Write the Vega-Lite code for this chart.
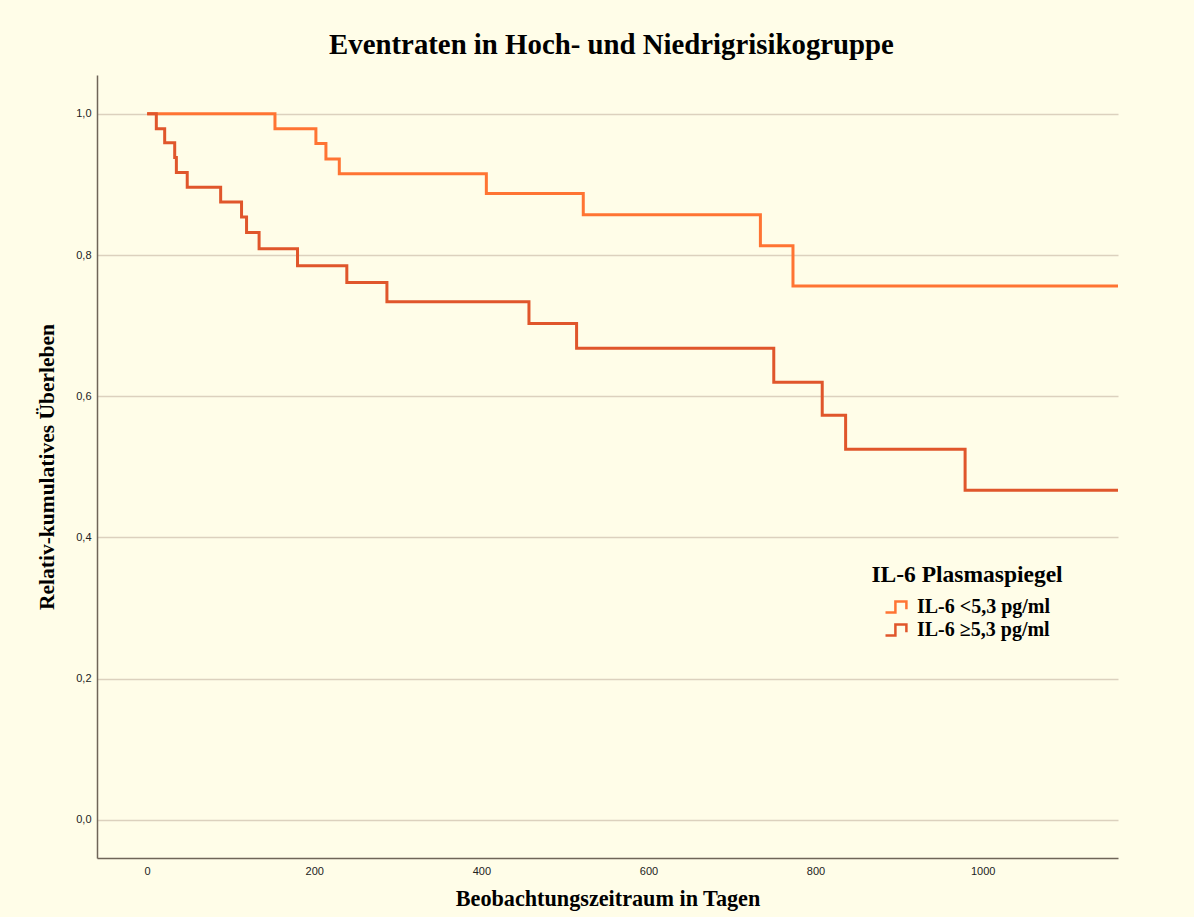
{
  "$schema": "https://vega.github.io/schema/vega-lite/v6.json",
  "width": 1021,
  "height": 783,
  "autosize": {"type": "none"},
  "padding": {"left": 97, "top": 75, "right": 76, "bottom": 59},
  "background": "#FFFDE8",
  "config": {"view": {"stroke": null}},
  "title": {
    "text": "Eventraten in Hoch- und Niedrigrisikogruppe",
    "font": "Liberation Serif",
    "fontSize": 28.8,
    "fontWeight": "bold",
    "color": "#000000",
    "anchor": "middle",
    "offset": 15,
    "dx": 4
  },
  "data": {
    "values": [
      {"gruppe": "IL-6 <5,3 pg/ml", "t": 0, "s": 1.0},
      {"gruppe": "IL-6 <5,3 pg/ml", "t": 153, "s": 0.979},
      {"gruppe": "IL-6 <5,3 pg/ml", "t": 202, "s": 0.958},
      {"gruppe": "IL-6 <5,3 pg/ml", "t": 214, "s": 0.936},
      {"gruppe": "IL-6 <5,3 pg/ml", "t": 230, "s": 0.915},
      {"gruppe": "IL-6 <5,3 pg/ml", "t": 406, "s": 0.887},
      {"gruppe": "IL-6 <5,3 pg/ml", "t": 522, "s": 0.857},
      {"gruppe": "IL-6 <5,3 pg/ml", "t": 734, "s": 0.813},
      {"gruppe": "IL-6 <5,3 pg/ml", "t": 773, "s": 0.756},
      {"gruppe": "IL-6 <5,3 pg/ml", "t": 1162, "s": 0.756},
      {"gruppe": "IL-6 ≥5,3 pg/ml", "t": 0, "s": 1.0},
      {"gruppe": "IL-6 ≥5,3 pg/ml", "t": 11, "s": 0.979},
      {"gruppe": "IL-6 ≥5,3 pg/ml", "t": 21, "s": 0.959},
      {"gruppe": "IL-6 ≥5,3 pg/ml", "t": 33, "s": 0.938},
      {"gruppe": "IL-6 ≥5,3 pg/ml", "t": 35, "s": 0.917},
      {"gruppe": "IL-6 ≥5,3 pg/ml", "t": 48, "s": 0.896},
      {"gruppe": "IL-6 ≥5,3 pg/ml", "t": 88, "s": 0.875},
      {"gruppe": "IL-6 ≥5,3 pg/ml", "t": 113, "s": 0.854},
      {"gruppe": "IL-6 ≥5,3 pg/ml", "t": 119, "s": 0.832},
      {"gruppe": "IL-6 ≥5,3 pg/ml", "t": 134, "s": 0.809},
      {"gruppe": "IL-6 ≥5,3 pg/ml", "t": 180, "s": 0.785},
      {"gruppe": "IL-6 ≥5,3 pg/ml", "t": 239, "s": 0.761},
      {"gruppe": "IL-6 ≥5,3 pg/ml", "t": 287, "s": 0.734},
      {"gruppe": "IL-6 ≥5,3 pg/ml", "t": 457, "s": 0.703},
      {"gruppe": "IL-6 ≥5,3 pg/ml", "t": 514, "s": 0.668},
      {"gruppe": "IL-6 ≥5,3 pg/ml", "t": 750, "s": 0.620},
      {"gruppe": "IL-6 ≥5,3 pg/ml", "t": 808, "s": 0.573},
      {"gruppe": "IL-6 ≥5,3 pg/ml", "t": 836, "s": 0.525},
      {"gruppe": "IL-6 ≥5,3 pg/ml", "t": 979, "s": 0.467},
      {"gruppe": "IL-6 ≥5,3 pg/ml", "t": 1162, "s": 0.467}
    ]
  },
  "mark": {"type": "line", "interpolate": "step-after", "strokeWidth": 3, "clip": true},
  "encoding": {
    "x": {
      "field": "t",
      "type": "quantitative",
      "scale": {"domain": [-60, 1162], "nice": false, "zero": false},
      "axis": {
        "title": "Beobachtungszeitraum in Tagen",
        "titleFont": "Liberation Serif",
        "titleFontSize": 22.2,
        "titleFontWeight": "bold",
        "titleColor": "#000000",
        "titlePadding": 11,
        "values": [0, 200, 400, 600, 800, 1000],
        "format": "d",
        "labelFont": "Liberation Sans",
        "labelFontSize": 11,
        "labelColor": "#222222",
        "labelPadding": 7,
        "ticks": false,
        "grid": false,
        "domainColor": "#6F6558",
        "domainWidth": 1.5
      }
    },
    "y": {
      "field": "s",
      "type": "quantitative",
      "scale": {"domain": [-0.054, 1.055], "nice": false, "zero": false},
      "axis": {
        "title": "Relativ-kumulatives Überleben",
        "titleFont": "Liberation Serif",
        "titleFontSize": 21.5,
        "titleFontWeight": "bold",
        "titleColor": "#000000",
        "titlePadding": 17,
        "values": [0, 0.2, 0.4, 0.6, 0.8, 1.0],
        "labelExpr": "replace(format(datum.value, '.1f'), '.', ',')",
        "labelFont": "Liberation Sans",
        "labelFontSize": 11,
        "labelColor": "#222222",
        "labelPadding": 6,
        "ticks": false,
        "grid": true,
        "gridColor": "#DCD1BE",
        "gridWidth": 1.5,
        "domainColor": "#6F6558",
        "domainWidth": 1.5
      }
    },
    "color": {
      "field": "gruppe",
      "type": "nominal",
      "scale": {"domain": ["IL-6 <5,3 pg/ml", "IL-6 ≥5,3 pg/ml"], "range": ["#FF7433", "#E0562B"]},
      "legend": {
        "title": "IL-6 Plasmaspiegel",
        "orient": "none",
        "legendX": 774,
        "legendY": 488,
        "titleFont": "Liberation Serif",
        "titleFontSize": 23.5,
        "titleFontWeight": "bold",
        "titleColor": "#000000",
        "titleAnchor": "middle",
        "titleLimit": 400,
        "titlePadding": 8,
        "labelFont": "Liberation Serif",
        "labelFontSize": 20,
        "labelFontWeight": "bold",
        "labelColor": "#000000",
        "labelOffset": 8,
        "labelLimit": 400,
        "symbolType": "M-1,0.5H-0.1V-0.5H0.9V0.2",
        "symbolSize": 484,
        "symbolStrokeWidth": 2.5,
        "symbolFillColor": "transparent",
        "rowPadding": 0
      }
    }
  }
}
